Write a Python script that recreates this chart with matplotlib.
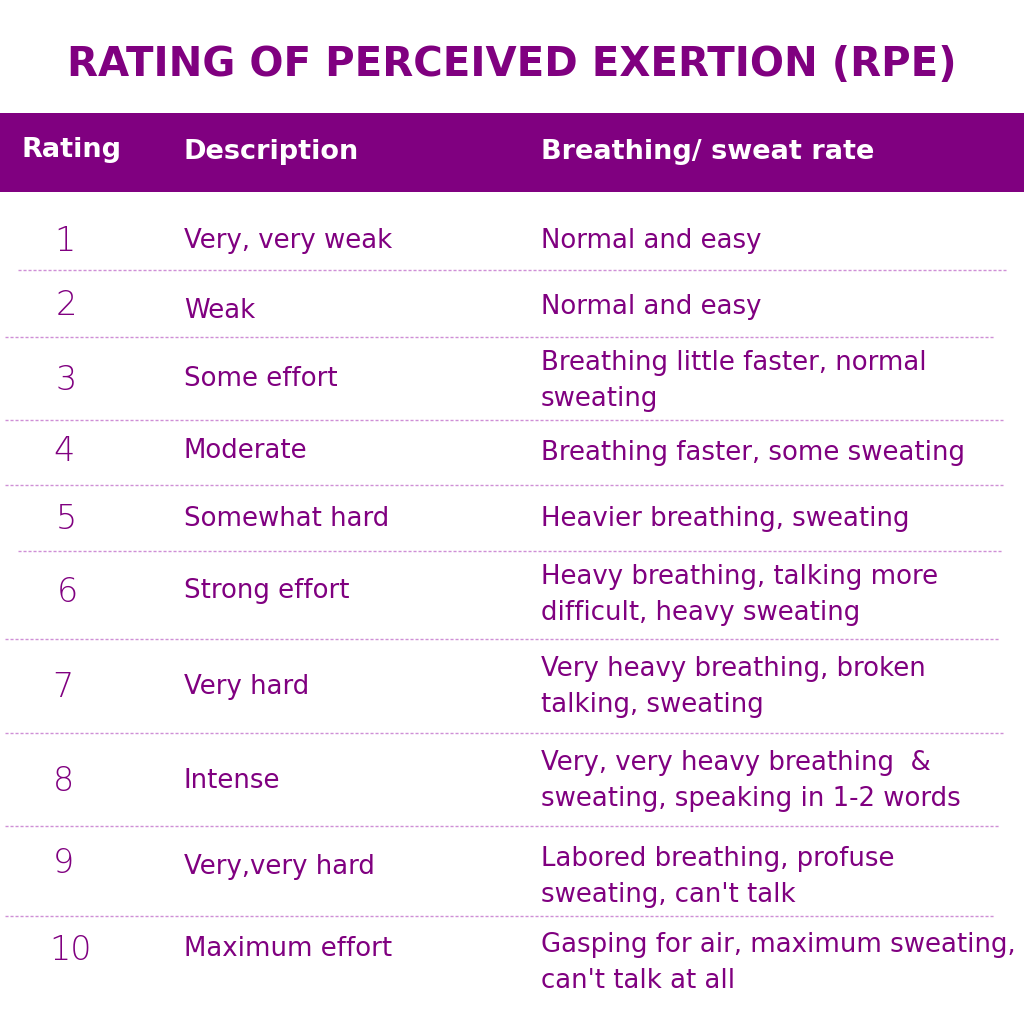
import matplotlib
matplotlib.use("Agg")
from matplotlib import pyplot as plt

# данные таблицы RPE
title = "RATING OF PERCEIVED EXERTION (RPE)"
headers = ["Rating", "Description", "Breathing/ sweat rate"]
ratings = ["1", "2", "3", "4", "5", "6", "7", "8", "9", "10"]
descriptions = ["Very, very weak", "Weak", "Some effort", "Moderate", "Somewhat hard",
                "Strong effort", "Very hard", "Intense", "Very,very hard", "Maximum effort"]
breathing = [
    ["Normal and easy"],
    ["Normal and easy"],
    ["Breathing little faster, normal", "sweating"],
    ["Breathing faster, some sweating"],
    ["Heavier breathing, sweating"],
    ["Heavy breathing, talking more", "difficult, heavy sweating"],
    ["Very heavy breathing, broken", "talking, sweating"],
    ["Very, very heavy breathing  &", "sweating, speaking in 1-2 words"],
    ["Labored breathing, profuse", "sweating, can't talk"],
    ["Gasping for air, maximum sweating,", "can't talk at all"],
]

# раскладка (пиксели)
numY = [238, 302, 377, 448, 516, 589, 684, 778, 860, 947]
numX = [65, 66, 66, 64, 66, 67, 63, 64, 63, 71]
descY = [238, 309, 377, 448, 516, 589, 684, 778, 864, 947]
brY = [238, 304, 360, 451, 516, 574, 666, 761, 856, 943]
lineY = [270, 337, 420, 485, 551, 639, 733, 826, 916]
lineX = [(18, 1006), (5, 995), (5, 1003), (5, 1003), (18, 1003),
         (5, 1000), (5, 1003), (5, 1000), (5, 995)]

purple = "#800080"
dashColor = "#cf8fd6"
font = "DejaVu Sans"

fig = plt.figure(figsize=(10.24, 10.24), dpi=100)
ax = fig.add_axes([0, 0, 1, 1])
ax.set_xlim(0, 1024)
ax.set_ylim(1024, 0)
ax.axis("off")

def txt(x, yc, s, size, cap, **kw):
  # yc - середина заглавных букв, переводим в базовую линию
  ax.text(x, yc + cap / 2, s, fontsize=size, va="baseline", family=font, **kw)

txt(512, 61, title, 29, 30, ha="center", color=purple, weight="heavy")

ax.add_patch(plt.Rectangle((0, 113), 1024, 79, color=purple, lw=0))
txt(22, 147, headers[0], 19.5, 20, color="white", weight="bold")
txt(184, 149, headers[1], 19.5, 20, color="white", weight="bold")
txt(541, 149, headers[2], 19.5, 20, color="white", weight="bold")

for i in range(len(ratings)):
  txt(numX[i], numY[i], ratings[i], 24, 26, ha="center", color=purple, weight="light")
  txt(184, descY[i], descriptions[i], 18.7, 19, color=purple)
  for k, line in enumerate(breathing[i]):
    txt(541, brY[i] + 36 * k, line, 18.7, 19, color=purple)

for y, (x0, x1) in zip(lineY, lineX):
  ax.plot([x0, x1], [y, y], color=dashColor, lw=1, dashes=(2.2, 1.4))

fig.savefig("out.png", dpi=100, facecolor="white")
